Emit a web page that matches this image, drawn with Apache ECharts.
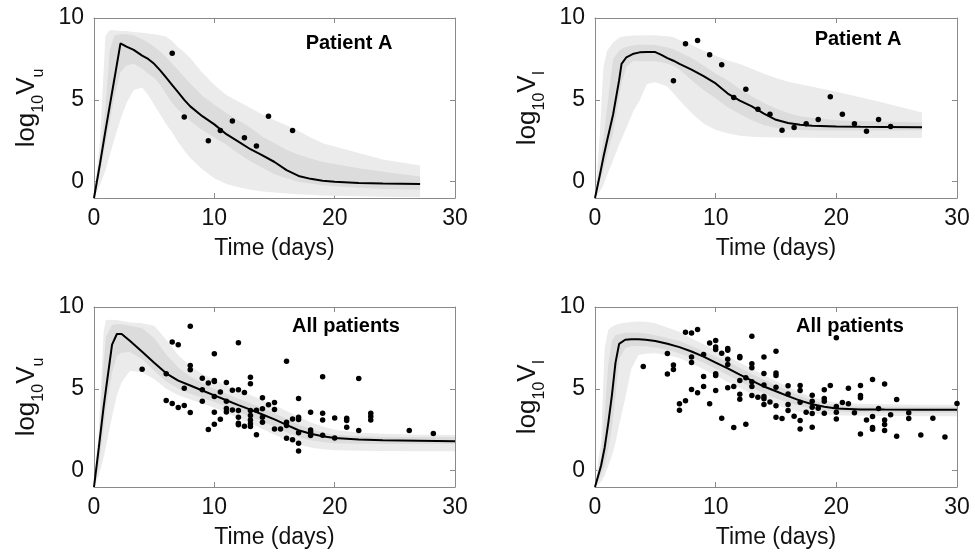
<!DOCTYPE html>
<html>
<head>
<meta charset="utf-8">
<script src="https://cdn.jsdelivr.net/npm/echarts@6/dist/echarts.min.js"></script>
<style>
  html, body { margin: 0; background: #fff; }
  #chart { width: 975px; height: 560px; }
</style>
</head>
<body>
<div id="chart"></div>
<script>
// ---- Patient A, log10 Vu ----
var tVuA = [0, 0.5, 0.95, 1.3, 1.7, 2.2, 2.7, 3.3, 4.0, 4.5, 5.0, 5.5, 6.0, 6.5, 7.0, 7.5, 8.0, 9, 10, 11, 12, 13, 14, 15, 16, 17, 18, 19, 20, 22, 24, 27.1];
var vuAMid   = [-1, 1.1, 3.1, 4.6, 6.3, 8.45, 8.25, 8.05, 7.7, 7.5, 7.2, 6.8, 6.35, 5.9, 5.45, 5.0, 4.6, 4.0, 3.5, 2.9, 2.45, 1.98, 1.6, 1.2, 0.7, 0.35, 0.17, 0.06, 0.0, -0.08, -0.12, -0.14];
var vuAOutHi = [-1, 2.5, 8.9, 9.25, 9.25, 9.2, 9.2, 9.15, 9.1, 9.05, 9.0, 8.95, 8.85, 8.6, 8.2, 7.9, 7.55, 6.65, 5.9, 5.3, 4.9, 4.5, 4.1, 3.75, 3.45, 3.1, 2.7, 2.35, 2.15, 1.75, 1.35, 0.98];
var vuAOutLo = [-1, -0.2, 0.7, 1.6, 2.6, 3.8, 4.8, 5.6, 5.75, 5.3, 4.7, 4.1, 3.5, 3.0, 2.4, 1.9, 1.45, 0.75, 0.2, -0.15, -0.35, -0.5, -0.6, -0.67, -0.72, -0.77, -0.8, -0.84, -0.86, -0.9, -0.93, -0.96];
var vuAInHi  = [-1, 1.6, 4.5, 8.0, 8.95, 9.0, 9.0, 8.95, 8.7, 8.5, 8.25, 7.95, 7.6, 7.2, 6.8, 6.4, 6.0, 5.25, 4.7, 4.2, 3.75, 3.3, 2.75, 2.35, 1.95, 1.65, 1.42, 1.2, 1.08, 0.82, 0.6, 0.32];
var vuAInLo  = [-1, 0.5, 2.3, 3.6, 5.2, 6.7, 7.1, 7.2, 6.9, 6.6, 6.35, 5.9, 5.35, 4.8, 4.4, 4.05, 3.7, 3.15, 2.7, 2.25, 1.72, 1.25, 0.85, 0.45, 0.2, 0.0, -0.12, -0.22, -0.28, -0.38, -0.45, -0.5];
var vuAObs = [[6.5, 7.84], [7.5, 3.95], [9.5, 2.5], [10.5, 3.13], [11.5, 3.71], [12.5, 2.68], [13.5, 2.18], [14.5, 4.0], [16.5, 3.12]];

// ---- Patient A, log10 VI ----
var tViA = [0, 0.4, 0.7, 1.0, 1.5, 2.0, 2.2, 2.6, 3.2, 3.7, 4.3, 5.0, 5.5, 6.0, 6.5, 7.0, 8, 9, 10, 11, 12, 13, 14, 15, 16, 17, 18, 20, 22, 24, 27.1];
var viAMid   = [-1, 0.4, 1.5, 2.5, 4.1, 6.2, 7.2, 7.6, 7.82, 7.9, 7.92, 7.92, 7.75, 7.55, 7.39, 7.2, 6.85, 6.45, 6.0, 5.38, 4.95, 4.6, 4.15, 3.78, 3.58, 3.48, 3.42, 3.37, 3.35, 3.34, 3.32];
var viAOutHi = [-1, 2.9, 7.0, 8.0, 8.5, 8.8, 8.85, 8.9, 8.93, 8.93, 8.95, 8.95, 8.9, 8.88, 8.82, 8.65, 8.35, 8.0, 7.7, 7.4, 7.19, 6.9, 6.6, 6.33, 6.1, 5.95, 5.8, 5.5, 5.15, 4.8, 4.22];
var viAOutLo = [-1, -0.6, -0.2, 0.4, 1.3, 2.25, 2.6, 3.3, 4.35, 4.95, 5.97, 6.07, 5.95, 5.8, 5.4, 4.97, 4.2, 3.55, 3.15, 2.95, 2.81, 2.75, 2.72, 2.7, 2.7, 2.68, 2.68, 2.67, 2.67, 2.67, 2.67];
var viAInHi  = [-1, 1.0, 2.6, 4.5, 7.5, 8.0, 8.1, 8.25, 8.33, 8.37, 8.37, 8.35, 8.28, 8.2, 8.1, 7.9, 7.55, 7.1, 6.6, 6.2, 5.66, 5.22, 4.8, 4.47, 4.18, 4.0, 3.9, 3.75, 3.7, 3.66, 3.62];
var viAInLo  = [-1, 0.0, 0.7, 1.6, 3.0, 5.2, 6.0, 7.0, 7.4, 7.35, 7.35, 7.35, 7.3, 7.2, 7.08, 6.85, 6.2, 5.6, 5.1, 4.55, 4.13, 3.75, 3.45, 3.3, 3.18, 3.15, 3.13, 3.12, 3.12, 3.12, 3.12];
var viAObs = [[6.5, 6.16], [7.5, 8.43], [8.5, 8.63], [9.5, 7.76], [10.5, 7.14], [11.5, 5.14], [12.5, 5.65], [13.5, 4.43], [14.5, 4.12], [15.5, 3.14], [16.5, 3.31], [17.5, 3.53], [18.5, 3.8], [19.5, 5.18], [20.5, 4.12], [21.5, 3.53], [22.5, 3.08], [23.5, 3.8], [24.5, 3.37]];

// ---- All patients, log10 Vu ----
var tVuAll = [0, 0.4, 0.8, 1.0, 1.5, 1.9, 2.3, 3, 4, 5, 6, 7, 8, 9, 10, 11, 12, 13, 14, 15, 16, 17, 18, 19, 20, 22, 24, 27, 30];
var vuAllMid   = [-1, 1.4, 3.9, 5.0, 7.7, 8.35, 8.35, 7.92, 7.27, 6.6, 5.95, 5.5, 5.2, 4.9, 4.6, 4.3, 4.0, 3.73, 3.43, 3.13, 2.8, 2.47, 2.25, 2.1, 2.0, 1.9, 1.85, 1.82, 1.79];
var vuAllOutHi = [-1, 2.5, 8.5, 9.2, 9.22, 9.2, 9.15, 9.05, 9.0, 8.85, 8.0, 7.05, 6.4, 5.9, 5.55, 5.2, 4.9, 4.62, 4.32, 4.0, 3.65, 3.3, 2.95, 2.7, 2.5, 2.32, 2.25, 2.2, 2.18];
var vuAllOutLo = [-1, -0.3, 0.8, 1.5, 3.3, 4.6, 5.4, 6.1, 6.0, 5.6, 5.0, 4.6, 4.35, 4.1, 3.85, 3.55, 3.2, 2.9, 2.55, 2.2, 1.9, 1.6, 1.42, 1.3, 1.25, 1.21, 1.2, 1.19, 1.19];
var vuAllInHi  = [-1, 1.8, 6.5, 8.2, 8.9, 8.95, 8.95, 8.85, 8.7, 8.1, 7.1, 6.3, 5.75, 5.35, 5.0, 4.7, 4.4, 4.12, 3.83, 3.5, 3.15, 2.82, 2.55, 2.35, 2.2, 2.1, 2.06, 2.05, 2.04];
var vuAllInLo  = [-1, 0.3, 2.5, 3.8, 6.0, 7.0, 7.2, 7.25, 6.8, 6.1, 5.45, 5.0, 4.7, 4.45, 4.2, 3.9, 3.6, 3.3, 3.0, 2.68, 2.35, 2.05, 1.85, 1.75, 1.68, 1.64, 1.63, 1.63, 1.63];
var vuAllObs = [
  [4, 6.2], [6, 5.92], [6, 4.29], [6.5, 7.86], [6.5, 4.1], [7, 7.69], [7, 3.86], [7.5, 5.04], [7.5, 3.98],
  [8, 8.82], [8, 6.43], [8, 6.16], [8, 3.55], [9, 5.65], [9, 4.95], [9, 4.24], [9.5, 5.35], [9.5, 2.51],
  [10, 7.14], [10, 5.51], [10, 5.45], [10, 4.53], [10, 3.57], [10, 2.84], [10.5, 4.8], [10.5, 3.14],
  [11, 5.39], [11, 4.24], [11, 3.8], [11, 3.59], [11.5, 4.92], [11.5, 3.71], [12, 7.82], [12, 4.94],
  [12, 3.67], [12, 3.27], [12, 2.9], [12, 2.8], [12.5, 4.78], [12.5, 2.71], [13, 5.71], [13, 5.31],
  [13, 3.67], [13, 3.37], [13, 3.1], [13, 2.86], [13, 2.69], [13.5, 3.69], [13.5, 2.2], [14, 4.45],
  [14, 3.78], [14, 3.27], [14, 2.96], [14.5, 4.02], [15, 4.16], [15, 3.73], [15, 2.55], [15.5, 2.55],
  [16, 6.69], [16, 2.96], [16, 2.76], [16, 1.98], [16.5, 3.16], [16.5, 1.88], [17, 4.41], [17, 3.27],
  [17, 3.12], [17, 2.31], [17, 1.67], [17, 1.2], [18, 3.57], [18, 2.49], [18, 2.35], [18, 2.14],
  [19, 5.73], [19, 3.51], [19, 3.1], [19, 2.16], [20, 3.22], [20, 2.0], [21, 3.2], [21, 3.06],
  [21, 2.65], [22, 5.63], [22, 2.45], [23, 3.51], [23, 3.31], [23, 3.1], [26.2, 2.45], [28.2, 2.27]
];

// ---- All patients, log10 VI ----
var tViAll = [0, 0.5, 0.8, 1.1, 1.4, 1.7, 2.0, 2.5, 3.0, 3.6, 4.2, 5, 6, 7, 8, 9, 10, 11, 12, 13, 14, 15, 16, 17, 18, 19, 20, 22, 24, 27, 30];
var viAllMid   = [-1, 0.3, 1.4, 2.9, 4.6, 6.6, 7.75, 8.0, 8.03, 8.03, 8.0, 7.92, 7.75, 7.55, 7.28, 6.97, 6.6, 6.25, 5.87, 5.5, 5.14, 4.85, 4.55, 4.28, 4.06, 3.9, 3.8, 3.74, 3.73, 3.72, 3.72];
var viAllOutHi = [-1, 1.8, 7.5, 8.6, 8.8, 8.9, 8.98, 9.03, 9.08, 9.11, 9.1, 9.0, 8.75, 8.48, 8.08, 7.72, 7.35, 6.97, 6.6, 6.22, 5.85, 5.48, 5.12, 4.78, 4.48, 4.28, 4.17, 4.08, 4.05, 4.03, 4.03];
var viAllOutLo = [-1, -0.7, -0.3, 0.3, 0.9, 1.7, 2.8, 4.4, 6.2, 7.06, 7.15, 7.18, 7.07, 6.88, 6.55, 6.2, 5.8, 5.43, 5.05, 4.68, 4.32, 4.0, 3.78, 3.6, 3.5, 3.43, 3.39, 3.35, 3.34, 3.33, 3.33];
var viAllInHi  = [-1, 0.8, 3.5, 6.5, 7.9, 8.28, 8.35, 8.41, 8.43, 8.42, 8.38, 8.28, 8.1, 7.92, 7.62, 7.3, 6.98, 6.65, 6.28, 5.9, 5.55, 5.22, 4.88, 4.57, 4.3, 4.12, 4.0, 3.92, 3.9, 3.89, 3.89];
var viAllInLo  = [-1, -0.3, 0.3, 1.3, 2.6, 4.6, 6.8, 7.5, 7.6, 7.62, 7.6, 7.52, 7.38, 7.18, 6.92, 6.6, 6.23, 5.85, 5.45, 5.08, 4.72, 4.42, 4.17, 3.95, 3.8, 3.69, 3.62, 3.56, 3.55, 3.54, 3.54];
var viAllObs = [
  [4, 6.37], [6, 7.16], [6, 5.9], [6.5, 6.45], [6.5, 6.18], [7, 4.08], [7, 3.69], [7.5, 8.45], [7.5, 4.27],
  [8, 8.41], [8, 6.94], [8, 6.61], [8, 4.96], [8.5, 8.63], [8.5, 4.76], [9, 7.1], [9, 5.76], [9, 5.14],
  [9.5, 7.8], [9.5, 4.08], [10, 7.96], [10, 7.55], [10, 7.41], [10, 5.92], [10, 5.82], [10, 4.9],
  [10.5, 7.18], [10.5, 3.2], [11, 7.47], [11, 7.35], [11, 6.8], [11, 6.49], [11, 5.06], [11.5, 5.14],
  [11.5, 2.63], [12, 6.98], [12, 6.9], [12, 5.51], [12, 4.67], [12, 4.37], [12.5, 5.67], [12.5, 2.84],
  [13, 8.22], [13, 6.53], [13, 6.29], [13, 5.43], [13, 5.14], [13, 4.59], [13.5, 4.49], [14, 6.94],
  [14, 5.94], [14, 5.24], [14, 4.53], [14, 4.39], [14, 4.04], [14.5, 4.2], [15, 7.29], [15, 5.96],
  [15, 5.82], [15, 5.1], [15, 3.96], [15, 3.27], [15.5, 3.18], [16, 5.18], [16, 4.69], [16, 4.04],
  [16, 3.67], [16.5, 3.33], [17, 5.2], [17, 4.9], [17, 4.18], [17, 3.06], [17, 2.55], [17.5, 3.57],
  [18, 4.61], [18, 4.24], [18, 3.88], [18, 3.49], [18, 2.65], [18.5, 3.82], [19, 4.94], [19, 4.41],
  [19, 4.24], [19, 3.51], [19.5, 5.2], [20, 8.12], [20, 3.92], [20, 3.57], [20, 3.16], [20.5, 4.16],
  [21, 5.04], [21, 4.08], [21.5, 3.53], [22, 5.2], [22, 4.59], [22, 4.45], [22, 2.24], [22.5, 3.1],
  [23, 5.57], [23, 3.31], [23, 2.63], [23, 2.53], [23.5, 3.8], [24, 5.29], [24, 3.1], [24, 2.82],
  [24, 2.45], [24.5, 3.41], [25, 4.35], [25, 2.1], [26, 3.53], [26, 3.18], [27, 2.18], [28, 3.2],
  [29, 2.06], [30, 4.1]
];

var xTicks = [0, 10, 20, 30];
var yTicks = [0, 5, 10];

var font = '"Liberation Sans", Arial, Helvetica, sans-serif';
var textColor = '#111';
var axisColor = '#8a8a8a';
var outerColor = '#ebebeb';
var innerColor = '#dcdcdc';

var chart = echarts.init(document.getElementById('chart'));

var grids = [
  { left: 94, top: 18, width: 361, height: 180 },
  { left: 595, top: 18, width: 362, height: 180 },
  { left: 94, top: 307, width: 361, height: 180 },
  { left: 595, top: 307, width: 362, height: 180 }
];

function xAxisFor(g, top) {
  return {
    type: 'value', gridIndex: g, min: xTicks[0], max: xTicks[xTicks.length - 1], interval: 10,
    position: top ? 'top' : 'bottom',
    name: top ? '' : 'Time (days)', nameLocation: 'middle', nameGap: 39,
    nameTextStyle: { fontSize: 23, color: textColor, fontFamily: font },
    axisLine: { show: true, onZero: false, lineStyle: { color: axisColor, width: 1 } },
    axisTick: { show: true, inside: true, length: 5, lineStyle: { color: axisColor } },
    axisLabel: { show: !top, fontSize: 23, color: textColor, fontFamily: font, margin: 9 },
    splitLine: { show: false }
  };
}

// log10 V with subscripts; the subscripts sit on the axis side once rotated
function yAxisFor(g, right, sub) {
  return {
    type: 'value', gridIndex: g, min: -1, max: 10,
    position: right ? 'right' : 'left',
    name: right ? '' : '{n|log}{s|10}{n|V}{s|' + sub + '}',
    nameLocation: 'middle', nameRotate: 90, nameGap: 47,
    nameTextStyle: {
      rich: {
        n: { fontSize: 26, lineHeight: 33, verticalAlign: 'top', color: textColor, fontFamily: font },
        s: { fontSize: 16, lineHeight: 33, verticalAlign: 'bottom', color: textColor, fontFamily: font }
      }
    },
    axisLine: { show: true, onZero: false, lineStyle: { color: axisColor, width: 1 } },
    axisTick: { show: true, inside: true, length: 5, customValues: yTicks, lineStyle: { color: axisColor } },
    axisLabel: { show: !right, customValues: yTicks, fontSize: 23, color: textColor, fontFamily: font, margin: 10 },
    splitLine: { show: false }
  };
}

function band(g, t, lo, hi, color) {
  return {
    type: 'custom', xAxisIndex: g, yAxisIndex: g, silent: true, clip: true, z: 1,
    data: [[t[0], lo[0]]],
    renderItem: function (params, api) {
      var pts = [];
      for (var i = 0; i < t.length; i++) pts.push(api.coord([t[i], hi[i]]));
      for (var j = t.length - 1; j >= 0; j--) pts.push(api.coord([t[j], lo[j]]));
      return { type: 'polygon', shape: { points: pts }, style: { fill: color } };
    }
  };
}

function curve(g, t, v) {
  return {
    type: 'line', xAxisIndex: g, yAxisIndex: g, z: 3, silent: true,
    showSymbol: false, symbol: 'none',
    data: t.map(function (x, i) { return [x, v[i]]; }),
    lineStyle: { color: '#000', width: 2 }
  };
}

function dots(g, pts) {
  return {
    type: 'scatter', xAxisIndex: g, yAxisIndex: g, z: 4, silent: true,
    symbolSize: 5.5, itemStyle: { color: '#000', opacity: 1 }, data: pts
  };
}

var panels = [
  { t: tVuA, mid: vuAMid, oLo: vuAOutLo, oHi: vuAOutHi, iLo: vuAInLo, iHi: vuAInHi, obs: vuAObs, sub: 'u' },
  { t: tViA, mid: viAMid, oLo: viAOutLo, oHi: viAOutHi, iLo: viAInLo, iHi: viAInHi, obs: viAObs, sub: 'I' },
  { t: tVuAll, mid: vuAllMid, oLo: vuAllOutLo, oHi: vuAllOutHi, iLo: vuAllInLo, iHi: vuAllInHi, obs: vuAllObs, sub: 'u' },
  { t: tViAll, mid: viAllMid, oLo: viAllOutLo, oHi: viAllOutHi, iLo: viAllInLo, iHi: viAllInHi, obs: viAllObs, sub: 'I' }
];

var xAxes = [], yAxes = [], series = [];
panels.forEach(function (p, g) {
  xAxes[g] = xAxisFor(g, false);
  xAxes[g + 4] = xAxisFor(g, true);
  yAxes[g] = yAxisFor(g, false, p.sub);
  yAxes[g + 4] = yAxisFor(g, true, p.sub);
  series.push(band(g, p.t, p.oLo, p.oHi, outerColor));
  series.push(band(g, p.t, p.iLo, p.iHi, innerColor));
  series.push(curve(g, p.t, p.mid));
  series.push(dots(g, p.obs));
});

function note(text, x, y) {
  return {
    type: 'text', x: x, y: y, z: 10,
    style: { text: text, fontSize: 20, fontWeight: 'bold', fontFamily: font, fill: '#000', align: 'center', verticalAlign: 'middle' }
  };
}

chart.setOption({
  animation: false,
  backgroundColor: '#fff',
  grid: grids,
  xAxis: xAxes,
  yAxis: yAxes,
  series: series,
  graphic: [
    note('Patient A', 349, 43),
    note('Patient A', 858, 39),
    note('All patients', 346, 326),
    note('All patients', 850, 326)
  ]
});
</script>
</body>
</html>
